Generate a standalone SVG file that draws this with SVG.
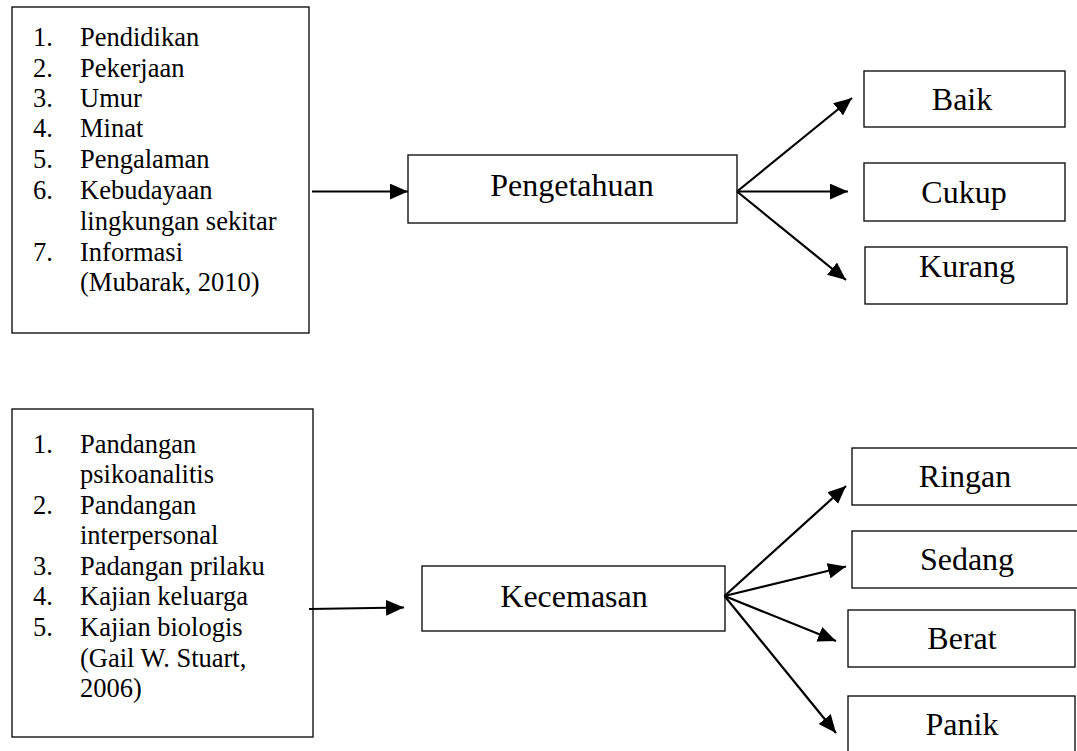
<svg xmlns="http://www.w3.org/2000/svg" width="1077" height="751" viewBox="0 0 1077 751">
<style>
.box{fill:#fff;stroke:#000;stroke-width:1.3}
.list{font-family:"Liberation Serif","Times New Roman",serif;font-size:26.5px;fill:#000}
.lbl{font-family:"Liberation Serif","Times New Roman",serif;font-size:32px;fill:#000;text-anchor:middle}
.arr{stroke:#000;stroke-width:2.2;fill:none;marker-end:url(#ah)}
</style>
<defs>
<marker id="ah" markerUnits="userSpaceOnUse" markerWidth="18" markerHeight="16" viewBox="0 0 16 14" refX="16" refY="7" orient="auto">
<path d="M0,0 L16,7 L0,14 Z" fill="#000"/>
</marker>
</defs>
<rect width="1077" height="751" fill="#fff"/>
<g id="factors1">
<rect class="box" x="12" y="7" width="297" height="326"/>
<g class="list">
<text x="33" y="46">1.</text><text x="80" y="46">Pendidikan</text>
<text x="33" y="77">2.</text><text x="80" y="77">Pekerjaan</text>
<text x="33" y="107">3.</text><text x="80" y="107">Umur</text>
<text x="33" y="137">4.</text><text x="80" y="137">Minat</text>
<text x="33" y="168">5.</text><text x="80" y="168">Pengalaman</text>
<text x="33" y="199">6.</text><text x="80" y="199">Kebudayaan</text>
<text x="80" y="230">lingkungan sekitar</text>
<text x="33" y="261">7.</text><text x="80" y="261">Informasi</text>
<text x="80" y="291">(Mubarak, 2010)</text>
</g>
</g>
<g id="pengetahuan">
<rect class="box" x="408" y="155" width="329" height="68"/>
<text class="lbl" x="572" y="196">Pengetahuan</text>
</g>
<g id="baik">
<rect class="box" x="864" y="71" width="201" height="56"/>
<text class="lbl" x="962" y="110">Baik</text>
</g>
<g id="cukup">
<rect class="box" x="864" y="163" width="201" height="58"/>
<text class="lbl" x="964" y="203">Cukup</text>
</g>
<g id="kurang">
<rect class="box" x="865" y="247" width="202" height="57"/>
<text class="lbl" x="967" y="277">Kurang</text>
</g>
<g id="factors2">
<rect class="box" x="12" y="409" width="301" height="328"/>
<g class="list">
<text x="33" y="453">1.</text><text x="80" y="453">Pandangan</text>
<text x="80" y="483">psikoanalitis</text>
<text x="33" y="514">2.</text><text x="80" y="514">Pandangan</text>
<text x="80" y="544">interpersonal</text>
<text x="33" y="575">3.</text><text x="80" y="575">Padangan prilaku</text>
<text x="33" y="605">4.</text><text x="80" y="605">Kajian keluarga</text>
<text x="33" y="636">5.</text><text x="80" y="636">Kajian biologis</text>
<text x="80" y="667">(Gail W. Stuart,</text>
<text x="80" y="697">2006)</text>
</g>
</g>
<g id="kecemasan">
<rect class="box" x="422" y="566" width="303" height="65"/>
<text class="lbl" x="574" y="607">Kecemasan</text>
</g>
<g id="ringan">
<rect class="box" x="852" y="448" width="240" height="57"/>
<text class="lbl" x="965" y="487">Ringan</text>
</g>
<g id="sedang">
<rect class="box" x="852" y="531" width="240" height="57"/>
<text class="lbl" x="967" y="570">Sedang</text>
</g>
<g id="berat">
<rect class="box" x="848" y="610" width="227" height="57"/>
<text class="lbl" x="962" y="649">Berat</text>
</g>
<g id="panik">
<rect class="box" x="848" y="696" width="227" height="70"/>
<text class="lbl" x="962" y="735">Panik</text>
</g>
<g id="connectors">
<line class="arr" x1="312" y1="191.5" x2="408" y2="191.5"/>
<line class="arr" x1="737" y1="191.5" x2="852" y2="98"/>
<line class="arr" x1="737" y1="191.5" x2="848" y2="191.5"/>
<line class="arr" x1="737" y1="191.5" x2="846" y2="280"/>
<line class="arr" x1="309" y1="609" x2="404" y2="607.5"/>
<line class="arr" x1="724.5" y1="596" x2="846" y2="486"/>
<line class="arr" x1="724.5" y1="596" x2="846" y2="566.5"/>
<line class="arr" x1="724.5" y1="596" x2="836" y2="641"/>
<line class="arr" x1="724.5" y1="596" x2="836" y2="733"/>
</g>
</svg>
